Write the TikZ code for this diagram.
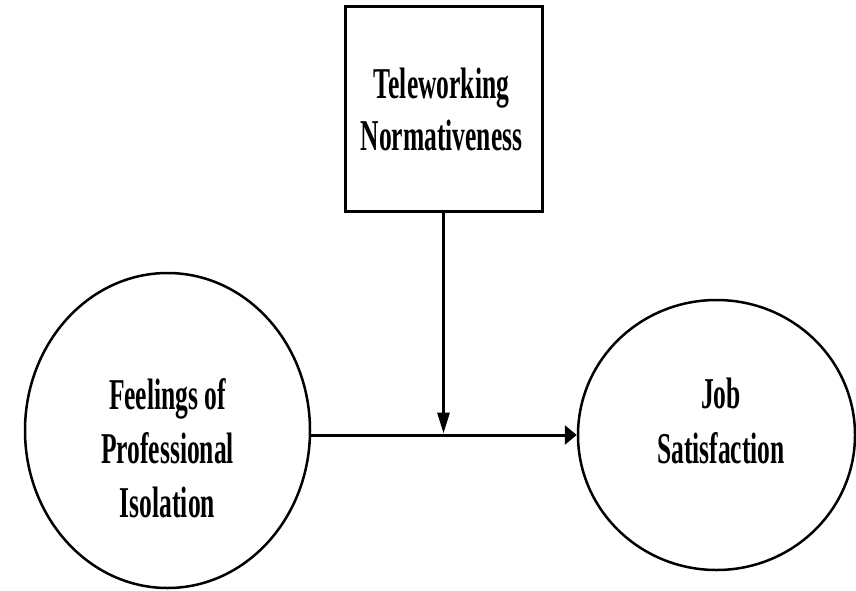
\documentclass[tikz,border=0pt]{standalone}
\usepackage{fontspec}
\setmainfont{Liberation Serif}[FakeStretch=0.58]
\usetikzlibrary{shapes.geometric,arrows.meta}
\begin{document}
\begin{tikzpicture}[x=1pt,y=-1pt,
  lbl/.style={font=\bfseries\fontsize{44}{54}\selectfont, align=center, inner sep=0pt},
  construct/.style={draw, ellipse, line width=2.5pt, inner sep=0pt},
  moderator/.style={draw, rectangle, line width=3pt, inner sep=0pt},
  link/.style={line width=3pt}]
\useasboundingbox (0,0) rectangle (856,591);

% moderator box
\node[moderator, minimum width=197pt, minimum height=204pt] (T) at (443.5,109) {};
\node[lbl, font=\bfseries\fontsize{44}{52}\selectfont] (Tt) at (441.5,109.5) {Teleworking\\Normativeness};

% predictor and outcome
\node[construct, minimum width=285pt, minimum height=315pt] (L) at (167.5,430.5) {};
\node[lbl] (Lt) at (167.5,448) {Feelings of\\Professional\\Isolation};

\node[construct, minimum width=277pt, minimum height=270pt] (R) at (716.5,435) {};
\node[lbl, font=\bfseries\fontsize{44}{55}\selectfont] (Rt) at (721,420.5) {Job\\Satisfaction};

% paths
\coordinate (J) at (T.south |- R.west);
\draw[link, -{Triangle[length=12pt,width=19pt]}] (L.east |- R.west) -- (R.west);
\draw[link, -{Triangle[length=21pt,width=12pt]}, shorten >=1.5pt] (T.south) -- (J);
\end{tikzpicture}
\end{document}
